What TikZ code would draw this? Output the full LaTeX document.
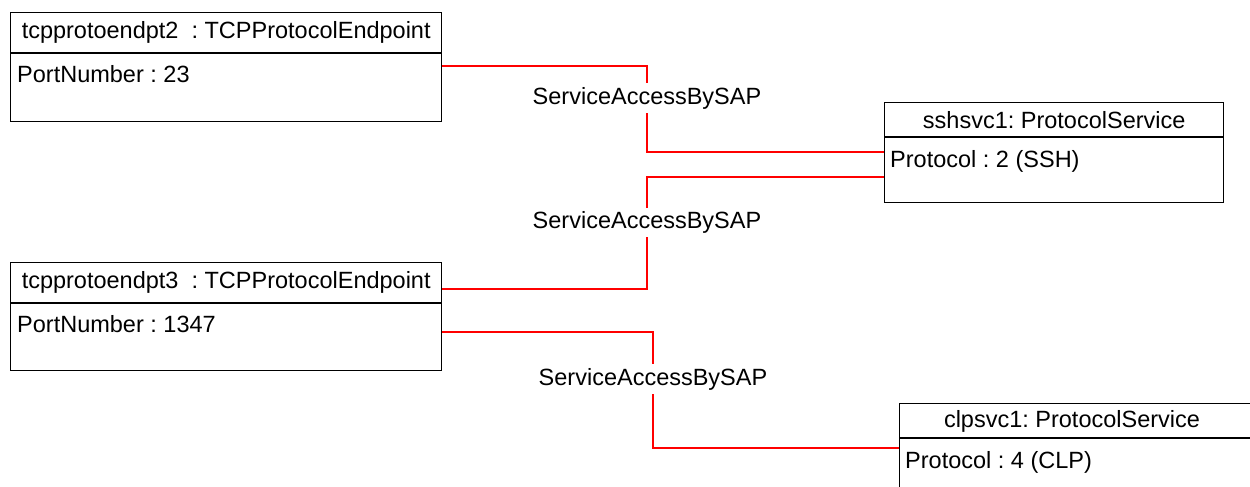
\documentclass[tikz,border=0pt]{standalone}
\usepackage{fontspec}
\setmainfont{Liberation Sans}
\usetikzlibrary{calc}
\begin{document}
\frenchspacing
\begin{tikzpicture}[x=1pt,y=-1pt,
  objbox/.style={draw=black, line width=1.4pt, rectangle, anchor=north west, inner sep=0pt},
  title/.style={font=\fontsize{23.5}{26}\selectfont, inner sep=0pt, anchor=center},
  attr/.style={font=\fontsize{23.5}{26}\selectfont, inner sep=0pt, anchor=base west},
  assoc/.style={draw=red, line width=1.3pt},
  assoclabel/.style={font=\fontsize{23.5}{26}\selectfont, fill=white, inner xsep=1pt, inner ysep=4pt}]
\useasboundingbox (0,0) rectangle (1250,487);
\clip (0,0) rectangle (1250,487);

% tcpprotoendpt2
\node[objbox, minimum width=431pt, minimum height=109pt] (e2) at (10,12) {};
\draw[line width=1.4pt] ([yshift=-41pt]e2.north west) coordinate (e2d) -- ([yshift=-41pt]e2.north east);
\node[title] (e2t) at ($(e2.north)+(0,20.5)$) {tcpprotoendpt2\ \ : TCPProtocolEndpoint};
\node[attr] (e2a) at ($(e2d)+(7,29)$) {PortNumber : 23};

% sshsvc1
\node[objbox, minimum width=339pt, minimum height=100pt] (ssh) at (884,102) {};
\draw[line width=1.4pt] ([yshift=-35pt]ssh.north west) coordinate (sshd) -- ([yshift=-35pt]ssh.north east);
\node[title] (ssht) at ($(ssh.north)+(0,18.5)$) {sshsvc1: ProtocolService};
\node[attr] (ssha) at ($(sshd)+(6,30)$) {Protocol : 2 (SSH)};

% tcpprotoendpt3
\node[objbox, minimum width=431pt, minimum height=108pt] (e3) at (10,262) {};
\draw[line width=1.4pt] ([yshift=-41pt]e3.north west) coordinate (e3d) -- ([yshift=-41pt]e3.north east);
\node[title] (e3t) at ($(e3.north)+(0,20.5)$) {tcpprotoendpt3\ \ : TCPProtocolEndpoint};
\node[attr] (e3a) at ($(e3d)+(7,29)$) {PortNumber : 1347};

% clpsvc1 (runs past the right and bottom edges)
\node[objbox, minimum width=353pt, minimum height=100pt] (clp) at (899,403) {};
\draw[line width=1.4pt] ([yshift=-35pt]clp.north west) coordinate (clpd) -- ([yshift=-35pt]clp.north east);
\node[title] (clpt) at (1072,421.5) {clpsvc1: ProtocolService};
\node[attr] (clpa) at ($(clpd)+(6,30)$) {Protocol : 4 (CLP)};

% association end points on the box edges
\coordinate (c1a) at ([yshift=-54pt]e2.north east);
\coordinate (c1b) at ([yshift=-50pt]ssh.north west);
\coordinate (c2a) at ([yshift=-75pt]ssh.north west);
\coordinate (c2b) at ([yshift=-27pt]e3.north east);
\coordinate (c3a) at ([yshift=-70pt]e3.north east);
\coordinate (c3b) at ([yshift=-45pt]clp.north west);

% ServiceAccessBySAP links
\draw[assoc] (c1a) -- (c1a -| 647,0) -- (c1b -| 647,0) -- (c1b);
\node[assoclabel] (l1) at (647,98) {ServiceAccessBySAP};

\draw[assoc] (c2a) -- (c2a -| 647,0) -- (c2b -| 647,0) -- (c2b);
\node[assoclabel] (l2) at (647,222.5) {ServiceAccessBySAP};

\draw[assoc] (c3a) -- (c3a -| 653,0) -- (c3b -| 653,0) -- (c3b);
\node[assoclabel] (l3) at (653,379) {ServiceAccessBySAP};
\end{tikzpicture}
\end{document}
